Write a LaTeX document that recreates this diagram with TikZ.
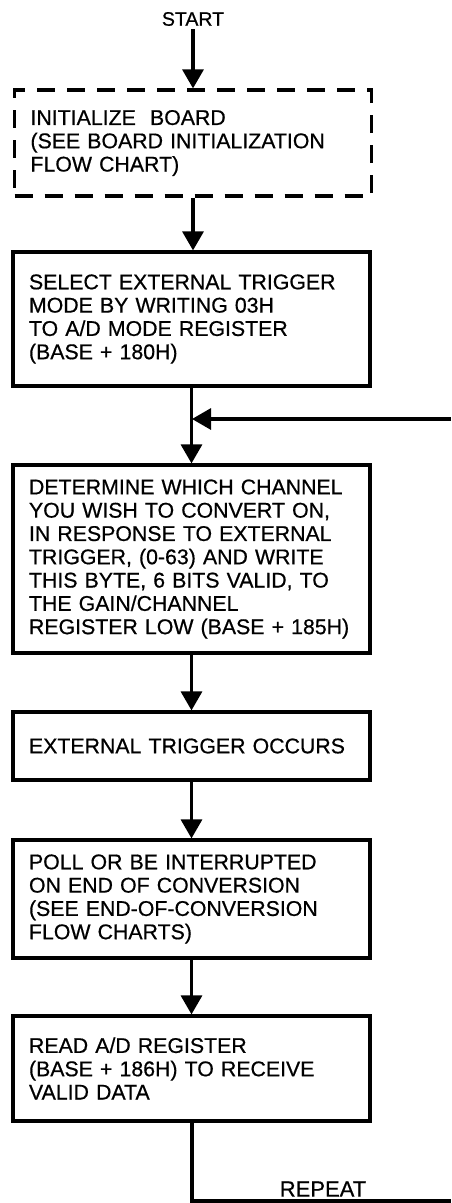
\documentclass[tikz,border=0pt]{standalone}
\usepackage{fontspec}
\setmainfont{Liberation Sans}
\newfontfamily\scanfont{Liberation Sans}[FakeBold=0.6]
\usetikzlibrary{arrows.meta,positioning}

\tikzset{
  procbox/.style={rectangle,draw=black,line width=3.2pt,minimum width=357pt,text width=325pt,inner xsep=16pt,align=left,font=\scanfont\fontsize{21.3}{23.3}\selectfont},
  dashbox/.style={procbox,dash pattern=on 18pt off 12pt},
  flowarrow/.style={-{Triangle[length=19pt,width=21pt]},line width=3.2pt},
  flowline/.style={line width=3.2pt}
}

\begin{document}
\hyphenpenalty=10000
\begin{tikzpicture}[x=1pt,y=-1pt]
\useasboundingbox (0,0) rectangle (451,1203);
\node[font=\scanfont\fontsize{19.5}{21}\selectfont] (start) at (193,19) {START};
\node[dashbox,minimum height=106pt] (init) at (193,143) {INITIALIZE\ \ BOARD\\(SEE BOARD INITIALIZATION\\FLOW CHART)};
\node[procbox,minimum height=134pt] (mode) at (191.5,319) {SELECT EXTERNAL TRIGGER\\MODE BY WRITING 03H\\TO A/D MODE REGISTER\\(BASE + 180H)};
\node[procbox,minimum height=188pt] (chan) at (191.5,559) {DETERMINE WHICH CHANNEL\\YOU WISH TO CONVERT ON,\\IN RESPONSE TO EXTERNAL\\TRIGGER, (0-63) AND WRITE\\THIS BYTE, 6 BITS VALID, TO\\THE GAIN/CHANNEL\\REGISTER LOW (BASE + 185H)};
\node[procbox,minimum height=68pt] (trig) at (191.5,746) {EXTERNAL TRIGGER OCCURS};
\node[procbox,minimum height=118pt] (poll) at (191.5,899) {POLL OR BE INTERRUPTED\\ON END OF CONVERSION\\(SEE END-OF-CONVERSION\\FLOW CHARTS)};
\node[procbox,minimum height=105pt] (read) at (191.5,1068.5) {READ A/D REGISTER\\(BASE + 186H) TO RECEIVE\\VALID DATA};
\node[font=\scanfont\fontsize{22}{24}\selectfont] (repeat) at (323,1189) {REPEAT};
% return path
\coordinate (join) at (192,419);
\coordinate (back) at (451,419);
\coordinate (loopcorner) at (192,1201);
\coordinate (loopend) at (451,1201);
\draw[flowarrow] (start) -- (init);
\draw[flowarrow] (init) -- (mode.north -| init);
\draw[flowarrow] (mode) -- (chan);
\draw[flowarrow] (back) -- (join);
\draw[flowarrow] (chan) -- (trig);
\draw[flowarrow] (trig) -- (poll);
\draw[flowarrow] (poll) -- (read);
\draw[flowline] (read.south -| loopcorner) -- (loopcorner) -- (loopend);
\end{tikzpicture}
\end{document}
